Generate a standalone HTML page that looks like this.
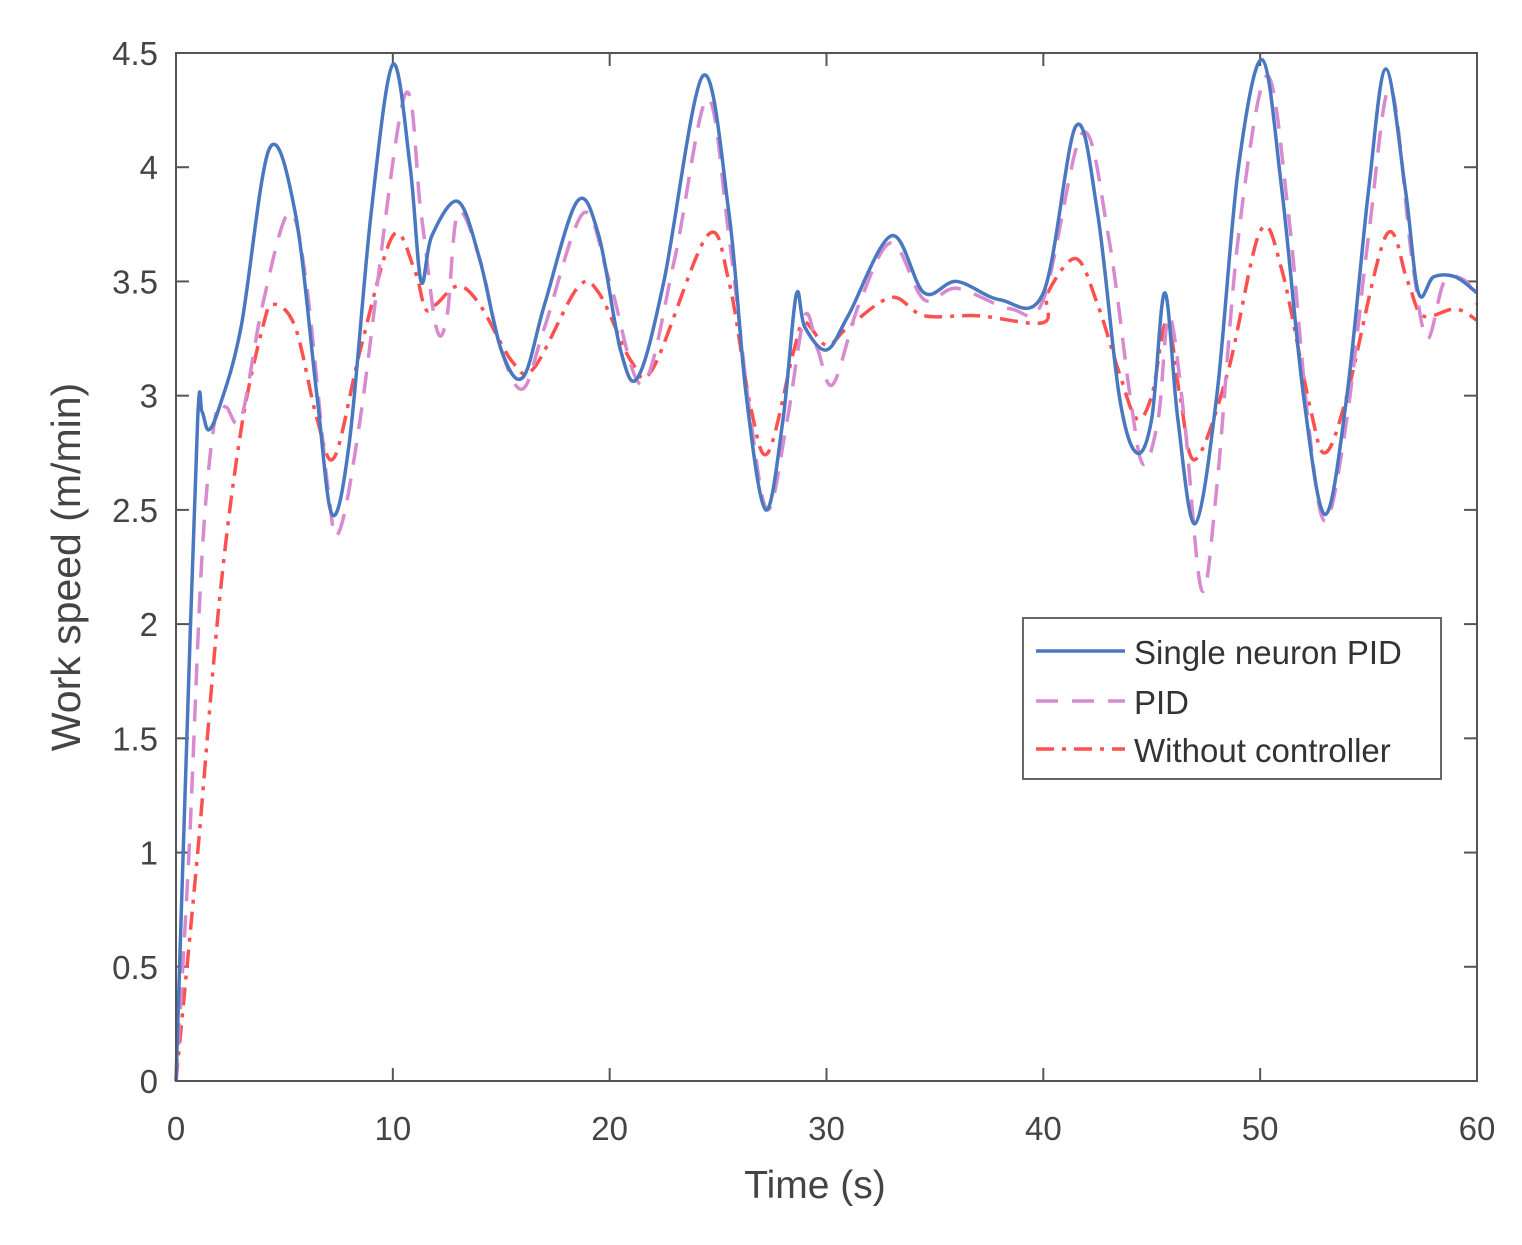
<!DOCTYPE html>
<html><head><meta charset="utf-8"><style>
html,body{margin:0;padding:0;background:#fff;}
svg text{font-family:"Liberation Sans",sans-serif;fill:#444;}
</style></head><body>
<svg id="s" width="1522" height="1240" viewBox="0 0 1522 1240" xmlns="http://www.w3.org/2000/svg">
<rect width="1522" height="1240" fill="#fff"/>
<g id="ticks" stroke="#555" stroke-width="2" fill="none"></g>
<g id="lbl" font-size="33"></g>
<g id="curves" fill="none"></g>
<rect x="176" y="53" width="1301" height="1028" fill="none" stroke="#555" stroke-width="2"/>
<text x="815" y="1198" font-size="39" text-anchor="middle">Time (s)</text>
<text transform="translate(80,567) rotate(-90)" font-size="41" text-anchor="middle">Work speed (m/min)</text>
<rect x="1023" y="618" width="418" height="161" fill="#fff" stroke="#666" stroke-width="2"/>
<line x1="1036" y1="651" x2="1125" y2="651" stroke="#4a78c0" stroke-width="3.5"/>
<line x1="1036" y1="701" x2="1125" y2="701" stroke="#d88ad0" stroke-width="3.5" stroke-dasharray="22,14"/>
<line x1="1036" y1="749" x2="1125" y2="749" stroke="#ff5050" stroke-width="3.5" stroke-dasharray="18,8,4,8"/>
<text x="1134" y="664" font-size="33" style="fill:#333">Single neuron PID</text>
<text x="1134" y="714" font-size="33" style="fill:#333">PID</text>
<text x="1134" y="762" font-size="33" style="fill:#333">Without controller</text>
</svg>
<script>
var X=function(t){return 176+t*1301/60},Y=function(v){return 1081-v*1028/4.5};
var tk=document.getElementById('ticks'),lb=document.getElementById('lbl'),ns='http://www.w3.org/2000/svg';
function el(p,n,a,txt){var e=document.createElementNS(ns,n);for(var k in a)e.setAttribute(k,a[k]);if(txt!=null)e.textContent=txt;p.appendChild(e);}
for(var i=0;i<=6;i++){var x=X(i*10);el(tk,'line',{x1:x,y1:1081,x2:x,y2:1068});el(tk,'line',{x1:x,y1:53,x2:x,y2:66});el(lb,'text',{x:x,y:1140,'text-anchor':'middle'},String(i*10));}
for(var i=0;i<=9;i++){var v=i*0.5,y=Y(v);el(tk,'line',{x1:176,y1:y,x2:189,y2:y});el(tk,'line',{x1:1477,y1:y,x2:1464,y2:y});el(lb,'text',{x:158,y:y+12,'text-anchor':'end'},String(v));}
function path(d){var p=d.map(function(a){return [X(a[0]),Y(a[1])]});var s='M'+p[0][0]+','+p[0][1];
for(var i=0;i<p.length-1;i++){var p0=p[i-1]||p[i],p1=p[i],p2=p[i+1],p3=p[i+2]||p2;
s+=' C'+(p1[0]+(p2[0]-p0[0])/6)+','+(p1[1]+(p2[1]-p0[1])/6)+' '+(p2[0]-(p3[0]-p1[0])/6)+','+(p2[1]-(p3[1]-p1[1])/6)+' '+p2[0]+','+p2[1];}return s;}
var red=[[0,0],[1,1.0],[2,2.1],[3,2.85],[4,3.3],[4.5,3.4],[5.5,3.3],[6.5,2.9],[7.3,2.73],[8.5,3.2],[10,3.7],[11,3.55],[11.5,3.38],[12,3.4],[13,3.48],[14,3.4],[15.5,3.15],[16.5,3.12],[18.5,3.47],[19.5,3.45],[21,3.15],[22,3.12],[24.5,3.7],[25.5,3.5],[26.5,2.95],[27.3,2.75],[28.5,3.2],[29,3.32],[30,3.22],[31,3.3],[33,3.43],[34.5,3.35],[37,3.35],[40,3.32],[40.2,3.45],[41.5,3.6],[42.5,3.4],[43.5,3.1],[44.3,2.9],[45,3.0],[45.7,3.33],[46.3,3.0],[47,2.72],[48.5,3.1],[50,3.72],[51,3.55],[52.3,2.95],[53,2.75],[54,3.0],[55.8,3.7],[56.8,3.5],[57.5,3.35],[59,3.38],[60,3.33]];
var pid=[[0,0],[0.6,1.0],[1.2,2.3],[1.8,2.9],[2.3,2.95],[3,2.9],[4,3.4],[5.2,3.8],[6,3.5],[7,2.6],[7.5,2.4],[8.5,2.9],[10.5,4.3],[11.3,3.8],[12,3.3],[12.5,3.35],[13,3.8],[14,3.6],[15,3.2],[16,3.03],[17,3.3],[18.8,3.8],[20,3.5],[21.5,3.05],[23,3.6],[24.5,4.3],[25.5,3.7],[26.5,2.9],[27.3,2.5],[28.2,2.9],[29,3.35],[29.6,3.2],[30.3,3.05],[31.5,3.4],[33,3.67],[34.5,3.42],[36,3.47],[38.5,3.38],[40,3.42],[41.8,4.15],[43,3.7],[44,3.0],[44.6,2.7],[45.3,2.9],[45.8,3.35],[46.5,2.9],[47.3,2.15],[48,2.6],[49,3.7],[50.3,4.4],[51.3,3.8],[52.2,2.9],[53,2.45],[54,2.9],[55,3.7],[56,4.35],[57,3.6],[57.7,3.25],[58.5,3.5],[59.5,3.5],[60,3.4]];
var blue=[[0,0],[0.5,1.5],[1,2.9],[1.2,2.93],[1.5,2.85],[2,2.95],[3,3.3],[4.3,4.08],[5.5,3.8],[6.5,3.0],[7.2,2.48],[8,2.8],[9,3.8],[10,4.45],[10.8,4.0],[11.3,3.5],[11.8,3.7],[13,3.85],[14,3.6],[15,3.2],[16,3.08],[17,3.4],[18.5,3.85],[19.5,3.7],[20.5,3.2],[21.3,3.08],[22.5,3.5],[24.3,4.4],[25.5,3.8],[26.3,3.0],[27.2,2.5],[28,2.9],[28.6,3.44],[29,3.3],[30,3.2],[31,3.35],[33,3.7],[34.5,3.45],[36,3.5],[38,3.42],[40,3.45],[41.5,4.18],[42.5,3.8],[43.5,3.0],[44.3,2.75],[45,2.9],[45.6,3.45],[46.2,2.9],[47,2.44],[48,3.0],[49,4.0],[50.1,4.47],[51,3.9],[52,3.0],[53,2.48],[54,3.0],[55,3.9],[55.8,4.43],[56.7,3.9],[57.3,3.45],[58,3.52],[59,3.52],[60,3.45]];
var c=document.getElementById('curves');
el(c,'path',{d:path(red),stroke:'#ff5050','stroke-width':3.5,'stroke-dasharray':'18,8,4,8'});
el(c,'path',{d:path(pid),stroke:'#d88ad0','stroke-width':3.5,'stroke-dasharray':'22,14'});
el(c,'path',{d:path(blue),stroke:'#4a78c0','stroke-width':3.5});
</script>
</body></html>
